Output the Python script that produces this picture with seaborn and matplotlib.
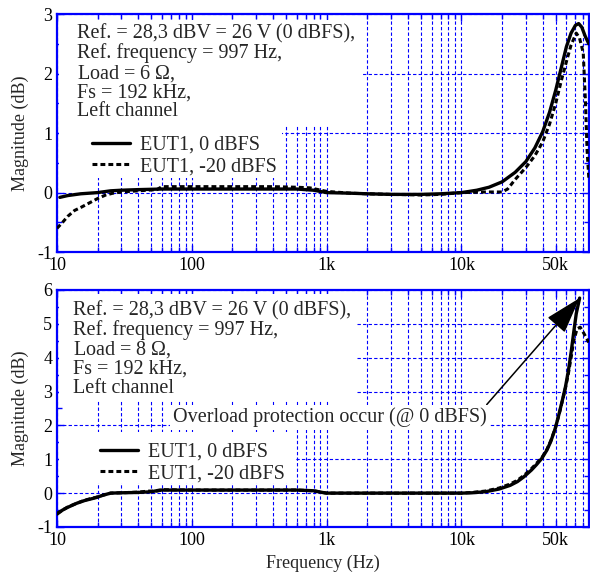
import matplotlib
matplotlib.use('Agg')
import matplotlib.pyplot as plt
from matplotlib.patches import Rectangle
from matplotlib.ticker import FixedLocator, FixedFormatter
import seaborn as sns

# ---- data ----
# top panel, 6 ohm load
f_top_0 = [10.5, 12, 15, 20, 25, 30, 40, 60, 100, 200, 400, 600, 800, 1000, 1500, 2000, 3000,
           5000, 7000, 10000, 13000, 16000, 20000, 25000, 30000, 35000, 40000, 45000, 50000,
           55000, 60000, 65000, 70000, 74000, 78000, 83000, 88000]
mag_top_0 = [-0.08, -0.05, -0.02, 0.0, 0.03, 0.04, 0.05, 0.06, 0.06, 0.06, 0.06, 0.06, 0.04, 0.0,
             -0.01, -0.02, -0.03, -0.03, -0.02, 0.0, 0.04, 0.09, 0.18, 0.34, 0.52, 0.75, 1.02,
             1.35, 1.72, 2.1, 2.45, 2.68, 2.81, 2.84, 2.78, 2.62, 2.5]
f_top_20 = [10, 11, 12, 13.5, 15, 17.5, 20, 23, 26, 30, 40, 55, 60, 100, 200, 400, 600, 750, 1000,
            1500, 2000, 3000, 5000, 7000, 10000, 15000, 20000, 22000, 25000, 30000, 35000, 40000,
            45000, 50000, 55000, 60000, 65000, 71000, 75000, 80000, 83000, 85500, 88000]
mag_top_20 = [-0.6, -0.5, -0.4, -0.3, -0.25, -0.17, -0.1, -0.04, -0.01, 0.01, 0.03, 0.05, 0.1, 0.1,
              0.1, 0.1, 0.09, 0.08, 0.02, -0.01, -0.02, -0.03, -0.04, -0.03, 0.0, 0.01, 0.01,
              0.06, 0.22, 0.42, 0.62, 0.85, 1.15, 1.5, 1.88, 2.2, 2.48, 2.68, 2.6, 2.35, 1.55,
              0.7, 0.25]

# bottom panel, 8 ohm load
f_bot_0 = [10, 11, 12, 14, 16, 19.6, 22, 25, 30, 40, 50, 58, 70, 100, 200, 400, 600, 800, 930,
           1000, 2000, 5000, 10000, 12000, 15000, 19000, 23000, 26000, 29000, 33000, 36000,
           39500, 43000, 46000, 49700, 53000, 56000, 59000, 62000, 65000, 68000, 71000, 75200]
mag_bot_0 = [-0.62, -0.5, -0.42, -0.3, -0.22, -0.13, -0.06, 0.0, 0.01, 0.02, 0.04, 0.09, 0.09,
             0.09, 0.09, 0.09, 0.09, 0.07, 0.02, 0.0, 0.0, 0.0, 0.0, 0.01, 0.04, 0.12, 0.23,
             0.34, 0.48, 0.68, 0.84, 1.03, 1.27, 1.53, 1.92, 2.35, 2.74, 3.13, 3.6, 4.15, 4.75,
             5.3, 5.76]
f_bot_20 = [10, 11, 12, 14, 16, 19.6, 22, 25, 30, 40, 48, 55, 62, 100, 200, 400, 600, 800, 930,
            1000, 2000, 5000, 10000, 12000, 15000, 19000, 23000, 26000, 29000, 33000, 36000,
            39500, 43000, 46000, 49700, 53000, 56000, 59000, 62000, 65000, 68000, 72000, 76000,
            80000, 84000, 88000]
mag_bot_20 = [-0.6, -0.5, -0.41, -0.3, -0.21, -0.12, -0.06, 0.0, 0.01, 0.03, 0.06, 0.06, 0.1,
              0.09, 0.09, 0.09, 0.09, 0.07, 0.02, 0.0, 0.0, 0.0, 0.0, 0.02, 0.06, 0.15, 0.27,
              0.38, 0.52, 0.72, 0.88, 1.05, 1.29, 1.55, 1.92, 2.33, 2.72, 3.1, 3.52, 4.0, 4.5,
              4.85, 4.9, 4.75, 4.6, 4.45]

x_ticks = [10, 100, 1000, 10000, 50000]
x_labels = ['10', '100', '1k', '10k', '50k']
x_minor = [20, 30, 40, 50, 60, 70, 80, 90,
           200, 300, 400, 500, 600, 700, 800, 900,
           2000, 3000, 4000, 5000, 6000, 7000, 8000, 9000,
           20000, 30000, 40000, 60000, 70000, 80000]

series_labels = ['EUT1, 0 dBFS', 'EUT1, -20 dBFS']
info_top = 'Ref. = 28,3 dBV = 26 V (0 dBFS),\nRef. frequency = 997 Hz,\nLoad = 6 $\\Omega$,\nFs = 192 kHz,\nLeft channel'
info_bot = 'Ref. = 28,3 dBV = 26 V (0 dBFS),\nRef. frequency = 997 Hz,\nLoad = 8 $\\Omega$,\nFs = 192 kHz,\nLeft channel'
note_bot = 'Overload protection occur (@ 0 dBFS)'

# ---- style ----
sns.set_style('ticks')
plt.rcParams['font.family'] = ['Liberation Serif', 'DejaVu Serif']
plt.rcParams['mathtext.fontset'] = 'custom'
plt.rcParams['mathtext.rm'] = 'Liberation Serif'
plt.rcParams['mathtext.it'] = 'Liberation Serif'
plt.rcParams['axes.unicode_minus'] = False
FS = 13      # ticks / axis labels
FS_T = 14.5  # annotations, legend
BLUE = '#0000ff'

fig = plt.figure(figsize=(5.9, 5.73), dpi=100)
ax_top = fig.add_axes([0.0966, 0.560, 0.9014, 0.4155])
ax_bot = fig.add_axes([0.0966, 0.0803, 0.9014, 0.4137])


def style_axes(ax, ylim, yticks):
    ax.set_xscale('log')
    ax.set_xlim(10, 88000)
    ax.set_ylim(*ylim)
    ax.xaxis.set_major_locator(FixedLocator(x_ticks))
    ax.xaxis.set_major_formatter(FixedFormatter(x_labels))
    ax.xaxis.set_minor_locator(FixedLocator(x_minor))
    ax.xaxis.set_minor_formatter(FixedFormatter([''] * len(x_minor)))
    ax.set_yticks(yticks)
    ax.set_yticklabels([str(v) for v in yticks])
    ax.set_yticks([v + 0.5 for v in yticks[:-1]], minor=True)
    ax.tick_params(which='both', direction='in', top=True, right=True, color=BLUE,
                   labelsize=FS, labelcolor='black')
    ax.tick_params(which='major', length=5, width=1)
    ax.tick_params(which='minor', length=3.5, width=1)
    for s in ax.spines.values():
        s.set_color(BLUE)
        s.set_linewidth(1.6)
    ax.set_axisbelow(True)
    ax.grid(True, which='major', axis='both', color=BLUE, ls=(0, (3, 2)), lw=0.8)
    ax.grid(True, which='minor', axis='x', color=BLUE, ls=(0, (3, 2)), lw=0.8)
    ax.set_ylabel('Magnitude (dB)', fontsize=FS, labelpad=6)


def blank(ax, x0, y0, x1, y1):
    # white area behind text blocks (hides the grid there)
    ax.add_patch(Rectangle((x0, y0), x1 - x0, y1 - y0, transform=ax.transAxes,
                           facecolor='white', edgecolor='none', zorder=1))


style_axes(ax_top, (-1, 3), [-1, 0, 1, 2, 3])
style_axes(ax_bot, (-1, 6), [-1, 0, 1, 2, 3, 4, 5, 6])

# ---- top panel ----
blank(ax_top, 0.004, 0.529, 0.574, 0.977)
blank(ax_top, 0.004, 0.311, 0.424, 0.529)
sns.lineplot(x=f_top_0, y=mag_top_0, ax=ax_top, color='black', lw=2.4,
             label=series_labels[0], sort=False, zorder=3)
sns.lineplot(x=f_top_20, y=mag_top_20, ax=ax_top, color='black', lw=2.2,
             linestyle=(0, (1.6, 1.0)), label=series_labels[1], sort=False, zorder=3)
ax_top.text(0.037, 0.957, info_top, transform=ax_top.transAxes, ha='left', va='top',
            fontsize=FS_T, linespacing=0.97, zorder=4)
ax_top.legend(loc='upper left', bbox_to_anchor=(0.066, 0.49), frameon=False, fontsize=FS_T,
              handlelength=1.9, handletextpad=0.5, labelspacing=0.12, borderpad=0,
              borderaxespad=0)
ax_top.set_xlabel('')

# ---- bottom panel ----
blank(ax_bot, 0.004, 0.536, 0.565, 0.982)
blank(ax_bot, 0.004, 0.186, 0.447, 0.40)
sns.lineplot(x=f_bot_0, y=mag_bot_0, ax=ax_bot, color='black', lw=2.4,
             label=series_labels[0], sort=False, zorder=3)
sns.lineplot(x=f_bot_20, y=mag_bot_20, ax=ax_bot, color='black', lw=2.2,
             linestyle=(0, (1.6, 1.0)), label=series_labels[1], sort=False, zorder=3)
ax_bot.text(0.030, 0.953, info_bot, transform=ax_bot.transAxes, ha='left', va='top',
            fontsize=FS_T, linespacing=0.97, zorder=4)
ax_bot.annotate(note_bot, xy=(f_bot_0[-1], mag_bot_0[-1]), xycoords='data',
                xytext=(0.514, 0.462), textcoords='axes fraction', ha='center', va='center',
                fontsize=FS_T, zorder=4,
                bbox=dict(boxstyle='square,pad=0.15', facecolor='white', edgecolor='none'),
                arrowprops=dict(arrowstyle='-|>,head_length=1.6,head_width=0.5',
                                color='black', lw=1.1, shrinkA=0, shrinkB=0,
                                relpos=(0.99, 1.0)))
ax_bot.legend(loc='upper left', bbox_to_anchor=(0.080, 0.355), frameon=False, fontsize=FS_T,
              handlelength=1.9, handletextpad=0.5, labelspacing=0.12, borderpad=0,
              borderaxespad=0)
ax_bot.set_xlabel('Frequency (Hz)', fontsize=FS, labelpad=4)

fig.savefig('out.png', dpi=100)
